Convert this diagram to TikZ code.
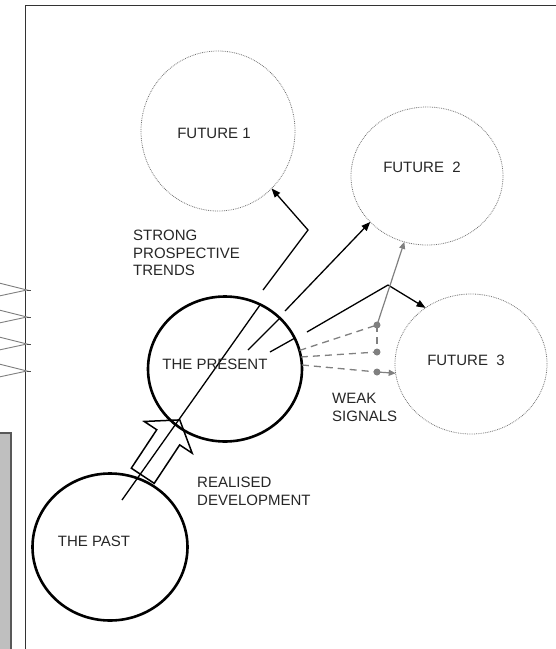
\documentclass[tikz,border=0pt]{standalone}
\usepackage{fontspec}
\setmainfont{Liberation Sans}
\usetikzlibrary{arrows.meta,positioning,shapes.geometric,shapes.arrows}

\begin{document}
\begin{tikzpicture}[x=1pt, y=-1pt,
    txt/.style={inner sep=0pt, text=black!85, font=\fontsize{15}{17.5}\selectfont},
    txtl/.style={txt, align=left, anchor=north west},
    era/.style={draw, ellipse, line width=2.6pt, inner sep=0pt, outer sep=0pt},
    fut/.style={draw=black!55, ellipse, densely dotted, line width=0.8pt,
      inner sep=0pt, outer sep=0pt},
    trend/.style={line width=1.3pt},
    arr/.style={trend, -{Triangle[length=9pt, width=7pt]}},
    weak/.style={draw=gray, line width=1.3pt, dash pattern=on 7pt off 5pt},
    warr/.style={gray, line width=1.2pt, -{Triangle[length=7pt, width=6pt]}},
    sig/.style={circle, fill=gray, inner sep=0pt, minimum size=7pt}]
  \useasboundingbox (0,0) rectangle (556,649);
  % === Frame and cut-off parts on the left ===
  \draw[black!80, line width=0.9pt] (25,652) -- (25,5) -- (558,5);
  \draw[fill=black!25, draw=black!65, line width=1.2pt] (-3,433) rectangle (11,652);
  \foreach \y in {290,317,344,371} {
    \draw[gray, line width=0.9pt] (-1,{\y-7}) -- (27,\y) -- (-1,{\y+6});
    \draw[black!70, line width=0.9pt] (27,\y) -- (31,\y);
  }
  % === Futures ===
  \node[fut, minimum width=154pt, minimum height=160pt] (fut1) at (218,131) {};
  \node[fut, minimum width=152pt, minimum height=138pt] (fut2) at (427,176) {};
  \node[fut, minimum width=152pt, minimum height=140pt] (fut3) at (471,364) {};
  % === Realised development ===
  \node[single arrow, draw, line width=1.5pt, inner sep=0pt, outer sep=0pt,
    minimum height=67pt, single arrow head extend=15pt,
    single arrow tip angle=108, rotate=56.5] (real) at (158.5,452)
    {\rule{0pt}{26pt}};
  \node[era, minimum width=155pt, minimum height=147pt] (past) at (110,547) {};
  \node[era, minimum width=154pt, minimum height=145pt] (pres) at (225,369) {};
  % === Strong prospective trends ===
  \coordinate (l0a) at (122,500);
  \coordinate (l0b) at (260,305);
  \coordinate (t1a) at (263,290);
  \coordinate (t1b) at (308,230);
  \coordinate (t2a) at (248,350);
  \coordinate (t2b) at (280,318);
  \coordinate (t2c) at (285,311);
  \coordinate (t3a) at (270,352);
  \coordinate (t3b) at (295,338);
  \coordinate (t3c) at (307,332);
  \coordinate (fork) at (388,285);
  \draw[trend] (l0a) -- (l0b);
  \draw[arr] (t1a) -- (t1b) -- (fut1.-47.5);
  \draw[trend] (t2a) -- (t2b);
  \draw[arr] (t2c) -- (fut2.-141.1);
  \draw[trend] (t3a) -- (t3b);
  \draw[trend] (t3c) -- (fork);
  \draw[arr] (fork) -- (fut3.129);
  % === Weak signals ===
  \node[sig] (s1) at (377,325) {};
  \node[sig] (s2) at (377,352) {};
  \node[sig] (s3) at (377,372) {};
  \draw[weak] (pres.14) -- (s1.center);
  \draw[weak] (pres.9) -- (s2.center);
  \draw[weak] (pres.3) -- (s3.center);
  \draw[weak] (s1.center) -- (s2.center);
  \draw[warr] (s3.center) -- (fut3.187);
  \draw[warr] (s1.center) -- (fut2.251.3);
  % === Labels ===
  \node[txt] (f1lbl) at (214,133) {FUTURE 1};
  \node[txt] (f2lbl) at (422,167) {FUTURE\ \ 2};
  \node[txt] (f3lbl) at (466,360) {FUTURE\ \ 3};
  \node[txt] (preslbl) at (215,364) {THE PRESENT};
  \node[txt] (pastlbl) at (94,541) {THE PAST};
  \node[txtl] (trendlbl) at (133,230) {STRONG\\PROSPECTIVE\\TRENDS};
  \node[txtl] (reallbl) at (197,477) {REALISED\\DEVELOPMENT};
  \node[txtl] (weaklbl) at (332,393) {WEAK\\SIGNALS};
\end{tikzpicture}
\end{document}
